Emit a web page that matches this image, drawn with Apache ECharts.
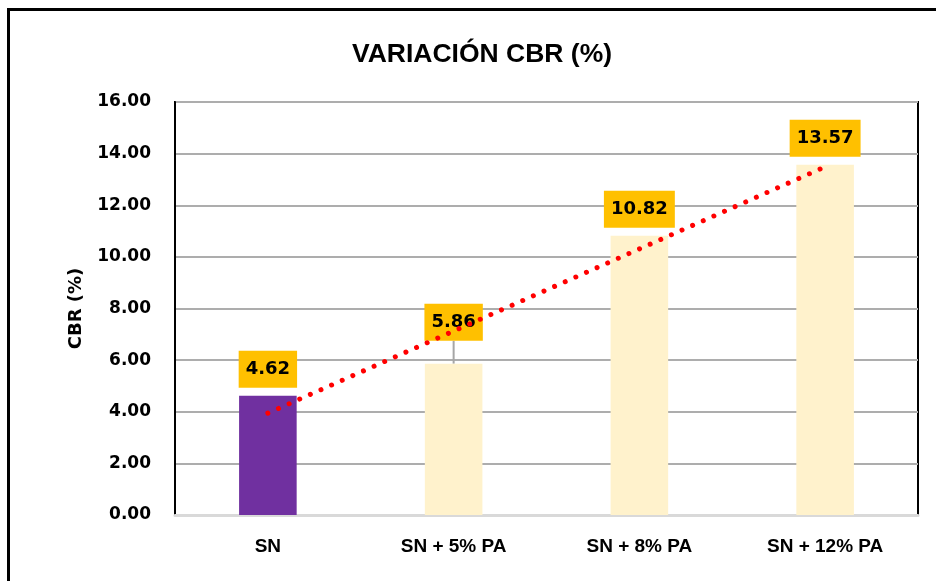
<!DOCTYPE html>
<html>
<head>
<meta charset="utf-8">
<script src="https://cdn.jsdelivr.net/npm/echarts@6/dist/echarts.min.js"></script>
<style>
  html, body { margin: 0; padding: 0; background: #fff; }
  #main { width: 936px; height: 581px; }
  #frame { position: absolute; left: 7px; top: 8px; width: 1000px; height: 1000px;
           border-left: 3px solid #000; border-top: 3px solid #000; pointer-events: none; }
</style>
</head>
<body>
<div id="main"></div>
<div id="frame"></div>
<script>
var categories = ['SN', 'SN + 5% PA', 'SN + 8% PA', 'SN + 12% PA'];
var cbrValues = [4.62, 5.86, 10.82, 13.57];
var yTicks = [0, 2, 4, 6, 8, 10, 12, 14, 16];

var barColors = ['#7030A0', '#FFF2CC', '#FFF2CC', '#FFF2CC'];
// which data label was pulled up (with a leader line)
var liftedLabel = 1;

// linear trend (least squares) over category positions 1..n
function trendValues(vals) {
  var n = vals.length, sx = 0, sy = 0, sxy = 0, sxx = 0;
  for (var i = 0; i < n; i++) {
    var x = i + 1;
    sx += x; sy += vals[i]; sxy += x * vals[i]; sxx += x * x;
  }
  var b = (n * sxy - sx * sy) / (n * sxx - sx * sx);
  var a = (sy - b * sx) / n;
  var out = [];
  for (var j = 0; j < n; j++) out.push(+(a + b * (j + 1)).toFixed(4));
  return out;
}

var chart = echarts.init(document.getElementById('main'));

var barData = [];
for (var i = 0; i < cbrValues.length; i++) {
  barData.push({
    value: cbrValues[i],
    itemStyle: { color: barColors[i] },
    labelLine: { show: i === liftedLabel }
  });
}

var option = {
  animation: false,
  title: {
    text: 'VARIACIÓN CBR (%)',
    left: 347,
    top: 36,
    textStyle: { fontFamily: 'Liberation Sans', fontWeight: 'bold', fontSize: 26.5, color: '#000' }
  },
  grid: {
    left: 175, right: 18, top: 102, bottom: 66,
    show: true, borderColor: '#000', borderWidth: 2, backgroundColor: '#fff'
  },
  xAxis: {
    type: 'category',
    data: categories,
    axisTick: { show: false },
    axisLine: { lineStyle: { color: '#D9D9D9', width: 3 } },
    axisLabel: {
      margin: 22,
      fontFamily: 'Liberation Sans', fontWeight: 'bold', fontSize: 19, color: '#000'
    }
  },
  yAxis: {
    type: 'value',
    min: yTicks[0],
    max: yTicks[yTicks.length - 1],
    interval: 2,
    name: 'CBR (%)',
    nameLocation: 'middle',
    nameGap: 90,
    nameTextStyle: { fontFamily: 'DejaVu Sans', fontWeight: 'bold', fontSize: 18, color: '#000' },
    axisLine: { show: true, lineStyle: { color: '#000', width: 2 } },
    axisTick: { show: false },
    splitLine: { lineStyle: { color: '#ADADAD', width: 2 } },
    axisLabel: {
      margin: 24,
      fontFamily: 'DejaVu Sans', fontWeight: 'bold', fontSize: 17, color: '#000',
      formatter: function (v) { return v.toFixed(2); }
    }
  },
  series: [{
    type: 'bar',
    data: barData,
    barWidth: '31%',
    z: 2,
    label: {
      show: true,
      position: 'top',
      distance: 8,
      backgroundColor: '#FFC000',
      padding: [9, 7, 8, 7],
      lineHeight: 20,
      fontFamily: 'DejaVu Sans', fontWeight: 'bold', fontSize: 18, color: '#000',
      formatter: function (p) { return p.value.toFixed(2); }
    },
    labelLine: { show: false, lineStyle: { color: '#A6A6A6', width: 2 } },
    labelLayout: function (p) {
      if (p.dataIndex === liftedLabel) return { dy: -15 };
      return {};
    }
  }, {
    type: 'line',
    data: trendValues(cbrValues),
    symbol: 'none',
    z: 10,
    lineStyle: { color: '#FF0000', width: 5, type: [0.01, 11.6], cap: 'round' }
  }]
};
chart.setOption(option);
</script>
</body>
</html>
